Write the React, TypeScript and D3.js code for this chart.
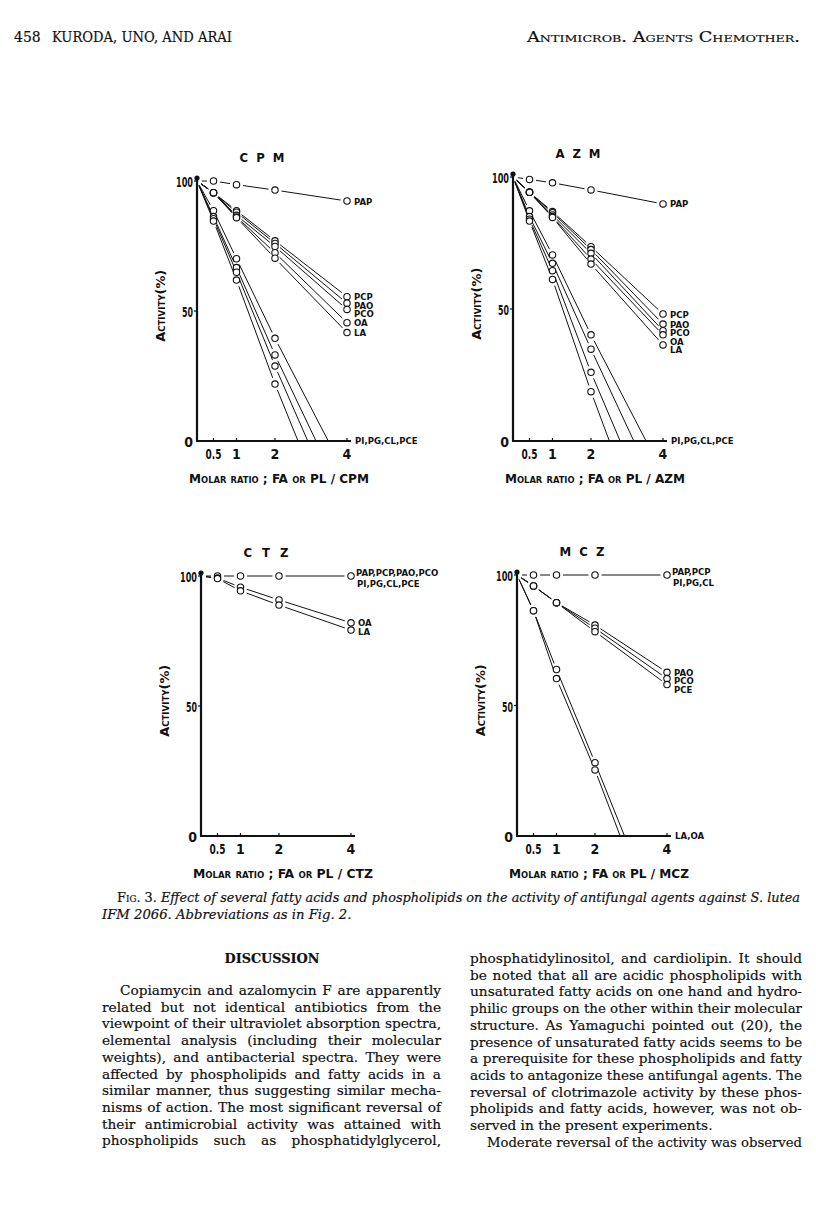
import * as d3 from "d3";
import { useEffect, useRef } from "react";

// molar ratios (FA or PL / drug) at which activity was measured
const ratios = [0.5, 1, 2, 4];
const xTicks = [0.5, 1, 2, 4];
const yTicks = [0, 50, 100];

// CPM panel, activity (%)
const cpmPAP = [100, 98.6, 96.5, 92.3];
const cpmPCP = [95.5, 88.6, 77.0, 55.5];
const cpmPAO = [95.5, 88.0, 76.0, 53.0];
const cpmPCO = [95.5, 86.8, 74.8, 50.6];
const cpmOA = [95.5, 86.2, 72.4, 45.5];
const cpmLA = [95.5, 85.9, 70.3, 41.7];
const cpmPI = [88.6, 70.1, 39.5];
const cpmPG = [86.3, 66.7, 33.1];
const cpmCL = [85.5, 64.9, 28.8];
const cpmPCE = [84.6, 61.9, 21.9];
const cpmZero = [3.48, 3.14, 2.91, 2.64]; // ratio where PI, PG, CL, PCE reach 0 %

// AZM panel
const azmPAP = [99.1, 97.8, 95.1, 89.8];
const azmPCP = [94.2, 86.9, 73.6, 48.1];
const azmPAO = [94.2, 86.5, 72.5, 44.3];
const azmPCO = [94.2, 85.6, 71.1, 41.8];
const azmOA = [94.2, 85.0, 68.9, 40.2];
const azmLA = [94.2, 84.7, 67.0, 36.4];
const azmPI = [87.2, 70.5, 40.2];
const azmPG = [85.0, 67.3, 34.8];
const azmCL = [84.0, 64.5, 26.0];
const azmPCE = [83.3, 61.2, 18.7];
const azmZero = [3.53, 3.19, 2.81, 2.51];

// CTZ panel
const ctzAll = [100, 100, 100, 100]; // PAP, PCP, PAO, PCO, PI, PG, CL, PCE
const ctzOA = [99.2, 95.7, 90.8, 82.0];
const ctzLA = [99.0, 94.3, 88.8, 79.2];

// MCZ panel
const mczAll = [100, 100, 100, 100]; // PAP, PCP, PI, PG, CL
const mczPAO = [95.8, 89.4, 80.8, 62.7];
const mczPCO = [95.8, 89.4, 79.6, 60.3];
const mczPCE = [95.8, 89.4, 78.3, 58.0];
const mczLA = [86.3, 63.8, 28.1];
const mczOA = [86.3, 60.3, 25.3];
const mczZero = [2.82, 2.70];

type Series = { values: number[]; zeroAt?: number; label?: string; label2?: string };
type Panel = { title: string; drug: string; ox: number; oy: number; h: number; series: Series[]; zeroLabel?: string };

const panels: Panel[] = [
  {
    title: "C P M", drug: "CPM", ox: 197, oy: 441, h: 260, zeroLabel: "PI,PG,CL,PCE",
    series: [
      { values: cpmPAP, label: "PAP" },
      { values: cpmPCP, label: "PCP" },
      { values: cpmPAO, label: "PAO" },
      { values: cpmPCO, label: "PCO" },
      { values: cpmOA, label: "OA" },
      { values: cpmLA, label: "LA" },
      { values: cpmPI, zeroAt: cpmZero[0] },
      { values: cpmPG, zeroAt: cpmZero[1] },
      { values: cpmCL, zeroAt: cpmZero[2] },
      { values: cpmPCE, zeroAt: cpmZero[3] },
    ],
  },
  {
    title: "A Z M", drug: "AZM", ox: 513, oy: 441, h: 264, zeroLabel: "PI,PG,CL,PCE",
    series: [
      { values: azmPAP, label: "PAP" },
      { values: azmPCP, label: "PCP" },
      { values: azmPAO, label: "PAO" },
      { values: azmPCO, label: "PCO" },
      { values: azmOA, label: "OA" },
      { values: azmLA, label: "LA" },
      { values: azmPI, zeroAt: azmZero[0] },
      { values: azmPG, zeroAt: azmZero[1] },
      { values: azmCL, zeroAt: azmZero[2] },
      { values: azmPCE, zeroAt: azmZero[3] },
    ],
  },
  {
    title: "C T Z", drug: "CTZ", ox: 201, oy: 836, h: 260,
    series: [
      { values: ctzAll, label: "PAP,PCP,PAO,PCO", label2: "PI,PG,CL,PCE" },
      { values: ctzOA, label: "OA" },
      { values: ctzLA, label: "LA" },
    ],
  },
  {
    title: "M C Z", drug: "MCZ", ox: 517, oy: 836, h: 261, zeroLabel: "LA,OA",
    series: [
      { values: mczAll, label: "PAP,PCP", label2: "PI,PG,CL" },
      { values: mczPAO, label: "PAO" },
      { values: mczPCO, label: "PCO" },
      { values: mczPCE, label: "PCE" },
      { values: mczLA, zeroAt: mczZero[0] },
      { values: mczOA, zeroAt: mczZero[1] },
    ],
  },
];

const leftCol = [
  "Copiamycin and azalomycin F are apparently",
  "related but not identical antibiotics from the",
  "viewpoint of their ultraviolet absorption spectra,",
  "elemental analysis (including their molecular",
  "weights), and antibacterial spectra. They were",
  "affected by phospholipids and fatty acids in a",
  "similar manner, thus suggesting similar mecha-",
  "nisms of action. The most significant reversal of",
  "their antimicrobial activity was attained with",
  "phospholipids such as phosphatidylglycerol,",
];
const rightCol = [
  "phosphatidylinositol, and cardiolipin. It should",
  "be noted that all are acidic phospholipids with",
  "unsaturated fatty acids on one hand and hydro-",
  "philic groups on the other within their molecular",
  "structure. As Yamaguchi pointed out (20), the",
  "presence of unsaturated fatty acids seems to be",
  "a prerequisite for these phospholipids and fatty",
  "acids to antagonize these antifungal agents. The",
  "reversal of clotrimazole activity by these phos-",
  "pholipids and fatty acids, however, was not ob-",
  "served in the present experiments.",
  "Moderate reversal of the activity was observed",
];

const chartFont = "'DejaVu Sans Condensed', 'Liberation Sans Narrow', 'DejaVu Sans', sans-serif";
const serif = "'DejaVu Serif', 'Liberation Serif', serif";

function ChartPanel({ p }: { p: Panel }) {
  const x = d3.scaleLinear().domain([0, 0.5, 1, 2, 4]).range([p.ox, p.ox + 16.5, p.ox + 39.5, p.ox + 78, p.ox + 150]);
  const y = d3.scaleLinear().domain([0, 100]).range([p.oy, p.oy - p.h]);

  const segs: { x1: number; y1: number; x2: number; y2: number }[] = [];
  const dots: { cx: number; cy: number }[] = [];
  p.series.forEach((s) => {
    const pts = [{ x: x(0), y: y(100), c: false }];
    s.values.forEach((v, i) => pts.push({ x: x(ratios[i]), y: y(v), c: true }));
    if (s.zeroAt !== undefined) pts.push({ x: x(s.zeroAt), y: y(0), c: false });
    for (let i = 0; i < pts.length - 1; i++) {
      const a = pts[i], b = pts[i + 1];
      const len = Math.hypot(b.x - a.x, b.y - a.y);
      const ux = (b.x - a.x) / len, uy = (b.y - a.y) / len;
      const t0 = i === 0 ? 5 : 6.5, t1 = b.c ? 6.5 : 0;
      segs.push({ x1: a.x + ux * t0, y1: a.y + uy * t0, x2: b.x - ux * t1, y2: b.y - uy * t1 });
    }
    pts.filter((q) => q.c).forEach((q) => dots.push({ cx: q.x, cy: q.y }));
  });

  // labels at the right end, pushed apart so they do not collide
  const gap = 8.6;
  const labels = p.series
    .filter((s) => s.label && s.values.length === ratios.length)
    .map((s) => ({ s, ly: y(s.values[s.values.length - 1]) }))
    .sort((a, b) => a.ly - b.ly);
  for (let i = 1; i < labels.length; i++) {
    if (labels[i].ly - labels[i - 1].ly < gap) labels[i].ly = labels[i - 1].ly + gap;
  }

  const x4 = x(4);
  return (
    <g fontFamily={chartFont} fill="#111">
      <text x={p.ox + 65} y={y(100) - 19} textAnchor="middle" fontSize={13} fontWeight="bold"
        textLength={45} lengthAdjust="spacing">{p.title}</text>
      {/* axes */}
      <line x1={p.ox} y1={y(100) - 3} x2={p.ox} y2={p.oy} stroke="#111" strokeWidth={2.2} />
      <circle cx={p.ox} cy={y(100) - 3} r={2.6} fill="#111" />
      <line x1={p.ox - 1} y1={p.oy} x2={x4 + 4} y2={p.oy} stroke="#111" strokeWidth={2.2} />
      {xTicks.map((t) => (
        <g key={t}>
          <line x1={x(t)} x2={x(t)} y1={p.oy} y2={p.oy - 3} stroke="#111" strokeWidth={1.2} />
          <text x={x(t)} y={p.oy + 18} textAnchor="middle" fontSize={14} fontWeight="bold"
            {...(t === 0.5 ? { textLength: 16, lengthAdjust: "spacingAndGlyphs" } : {})}>{t}</text>
        </g>
      ))}
      {yTicks.map((t) => (
        <g key={t}>
          {t > 0 && <line x1={p.ox - 3} x2={p.ox} y1={y(t)} y2={y(t)} stroke="#111" strokeWidth={1.2} />}
          <text x={p.ox - 4} y={y(t) + 6} textAnchor="end" fontSize={14} fontWeight="bold"
            {...(t > 0 ? { textLength: t === 100 ? 17 : 11, lengthAdjust: "spacingAndGlyphs" } : {})}>{t}</text>
        </g>
      ))}
      <text transform={`translate(${p.ox - 32},${y(52)}) rotate(-90)`} textAnchor="middle" fontSize={12}
        fontWeight="bold" style={{ fontVariant: "small-caps" }} textLength={72} lengthAdjust="spacingAndGlyphs">
        Activity(%)
      </text>
      <text x={p.ox - 8} y={p.oy + 42} fontSize={13} fontWeight="bold" style={{ fontVariant: "small-caps" }}
        textLength={180} lengthAdjust="spacingAndGlyphs">
        {`Molar ratio ; FA or PL / ${p.drug}`}
      </text>
      {/* series */}
      {segs.map((s, i) => (
        <line key={i} x1={s.x1} y1={s.y1} x2={s.x2} y2={s.y2} stroke="#111" strokeWidth={1} />
      ))}
      {dots.map((d, i) => (
        <circle key={i} cx={d.cx} cy={d.cy} r={3.2} fill="#fff" stroke="#111" strokeWidth={1.1} />
      ))}
      {labels.map(({ s, ly }, i) =>
        s.label2 ? (
          <g key={i} fontSize={9.5} fontWeight="bold">
            <text x={x4 + 5} y={ly}>{s.label}</text>
            <text x={x4 + 6} y={ly + 11}>{s.label2}</text>
          </g>
        ) : (
          <text key={i} x={x4 + 7} y={ly + 3.5} fontSize={9.5} fontWeight="bold">{s.label}</text>
        )
      )}
      {p.zeroLabel && (
        <text x={x4 + 8} y={p.oy + 3} fontSize={9.5} fontWeight="bold">{p.zeroLabel}</text>
      )}
    </g>
  );
}

export default function App() {
  const svgRef = useRef<SVGSVGElement>(null);

  // justify body lines: widen word gaps, or squeeze glyphs when a line is too long
  useEffect(() => {
    d3.select(svgRef.current).selectAll<SVGTextElement, unknown>("text.justify").each(function () {
      const target = +(this.getAttribute("data-w") || 0);
      const natural = this.getComputedTextLength();
      const spaces = ((this.textContent || "").match(/ /g) || []).length;
      if (natural > target) {
        d3.select(this).attr("textLength", target).attr("lengthAdjust", "spacingAndGlyphs");
      } else if (spaces) {
        d3.select(this).attr("word-spacing", (target - natural) / spaces);
      }
    });
  }, []);

  const lh = 16.7;
  return (
    <svg ref={svgRef} width={816} height={1219} style={{ position: "absolute", left: 0, top: 0, background: "#fff" }}>
      <g fontFamily={serif} fill="#111" stroke="#111" strokeWidth={0.2}>
        <text x={14} y={42} fontSize={14}>458</text>
        <text x={52} y={42} fontSize={14} textLength={180} lengthAdjust="spacingAndGlyphs">KURODA, UNO, AND ARAI</text>
        <text x={527} y={42} fontSize={14} style={{ fontVariant: "small-caps" }} textLength={273}
          lengthAdjust="spacingAndGlyphs">Antimicrob. Agents Chemother.</text>
      </g>

      {panels.map((p) => <ChartPanel key={p.drug} p={p} />)}

      <g fontFamily={serif} fill="#111" stroke="#111" strokeWidth={0.2} fontSize={13.2}>
        <text className="justify" data-w={683} x={117} y={902}>
          <tspan style={{ fontVariant: "small-caps" }}>Fig. 3. </tspan>
          <tspan fontStyle="italic">Effect of several fatty acids and phospholipids on the activity of antifungal agents against S. lutea</tspan>
        </text>
        <text x={102} y={919} fontStyle="italic">IFM 2066. Abbreviations as in Fig. 2.</text>
      </g>

      <g fontFamily={serif} fill="#111" stroke="#111" strokeWidth={0.2} fontSize={13.7}>
        <text x={272} y={963} textAnchor="middle" fontWeight="bold" fontSize={13.5} textLength={95}
          lengthAdjust="spacingAndGlyphs">DISCUSSION</text>
        {leftCol.map((t, i) => {
          const indent = i === 0 ? 18 : 0;
          return (
            <text key={i} className="justify" data-w={339 - indent} x={102 + indent} y={995 + i * lh}>{t}</text>
          );
        })}
        {rightCol.map((t, i) => {
          const indent = i === 11 ? 17 : 0;
          const last = i === 10;
          return (
            <text key={i} className={last ? "" : "justify"} data-w={332 - indent} x={470 + indent}
              y={963 + i * lh}>{t}</text>
          );
        })}
      </g>
    </svg>
  );
}
